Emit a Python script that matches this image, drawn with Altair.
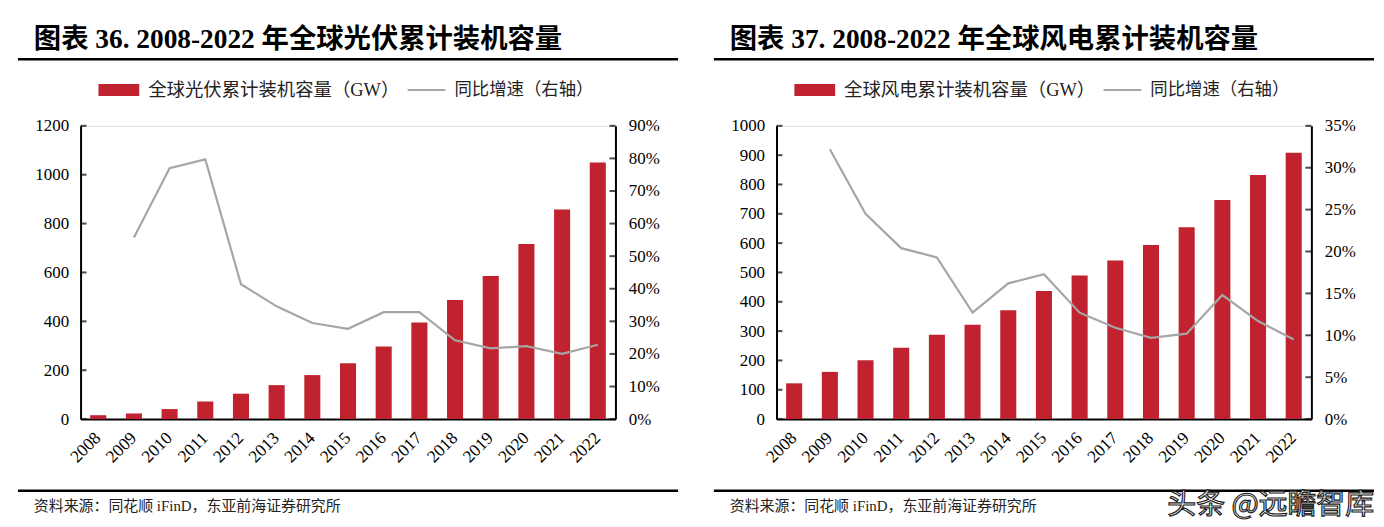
import altair as alt
import pandas as pd

# ---------------- data ----------------
years = [str(y) for y in range(2008, 2023)]

pv_title = "图表 36. 2008-2022 年全球光伏累计装机容量"
pv_bar_name = "全球光伏累计装机容量（GW）"
pv_capacity = [16, 23, 41, 72, 104, 139, 180, 228, 297, 395, 487, 586, 716, 858, 1050]
pv_growth = [None, 0.557, 0.770, 0.797, 0.414, 0.346, 0.295, 0.277, 0.328, 0.328, 0.242, 0.217, 0.224, 0.200, 0.228]
pv_left_ticks = [0, 200, 400, 600, 800, 1000, 1200]
pv_right_ticks = [0, 0.1, 0.2, 0.3, 0.4, 0.5, 0.6, 0.7, 0.8, 0.9]

wind_title = "图表 37. 2008-2022 年全球风电累计装机容量"
wind_bar_name = "全球风电累计装机容量（GW）"
wind_capacity = [122, 161, 201, 243, 288, 322, 371, 437, 490, 541, 594, 654, 747, 832, 908]
wind_growth = [None, 0.322, 0.245, 0.204, 0.193, 0.127, 0.162, 0.173, 0.127, 0.109, 0.097, 0.102, 0.148, 0.117, 0.095]
wind_left_ticks = [0, 100, 200, 300, 400, 500, 600, 700, 800, 900, 1000]
wind_right_ticks = [0, 0.05, 0.10, 0.15, 0.20, 0.25, 0.30, 0.35]

line_name = "同比增速（右轴）"
source_text = "资料来源：同花顺 iFinD，东亚前海证券研究所"
watermark = "头条 @远瞻智库"

RED = "#C0222F"
GRAY = "#A6A6A6"
SERIF = "Liberation Serif, Noto Sans CJK SC"
W, H = 538, 295


def deco_chart():
    return alt.Chart(alt.Data(values=[{}]))


def panel(title, bar_name, cap, growth, lticks, rticks, extra=None):
    df = pd.DataFrame({"year": years, "cap": cap, "g": growth})
    lscale = alt.Scale(domain=[lticks[0], lticks[-1]], nice=False)
    rscale = alt.Scale(domain=[rticks[0], rticks[-1]], nice=False)
    xenc = alt.X(
        "year:O",
        sort=years,
        scale=alt.Scale(paddingInner=0.55, paddingOuter=0.27),
        axis=alt.Axis(
            title=None, labelAngle=-45, labelAlign="right", labelBaseline="middle",
            ticks=False, labelPadding=16, domainColor="black", domainWidth=2,
            labelFont="Liberation Serif", labelFontSize=17.5, labelColor="#000",
        ),
    )
    bars = alt.Chart(df).mark_bar(color=RED).encode(
        x=xenc,
        y=alt.Y(
            "cap:Q", scale=lscale,
            axis=alt.Axis(
                title=None, values=lticks, format="d", grid=False, domainColor="black",
                domainWidth=2, ticks=False, labelPadding=12,
                labelFont="Liberation Serif", labelFontSize=17, labelColor="#000",
            ),
        ),
    )
    line = alt.Chart(df).transform_filter("isValid(datum.g)").mark_line(
        color=GRAY, strokeWidth=2.2
    ).encode(
        x=xenc,
        y=alt.Y(
            "g:Q", scale=rscale,
            axis=alt.Axis(
                title=None, orient="right", values=rticks, format=".0%", grid=False,
                domainColor="black", domainWidth=2, ticks=False, labelPadding=13,
                labelFont="Liberation Serif", labelFontSize=17, labelColor="#000",
            ),
        ),
    )
    # inward axis ticks, driven by the tick value lists
    lt = alt.Chart(pd.DataFrame({"v": lticks})).mark_tick(
        orient="horizontal", size=6, thickness=2, color="black"
    ).encode(y=alt.Y("v:Q", scale=lscale, axis=None), x=alt.value(3))
    rt = alt.Chart(pd.DataFrame({"v": rticks})).mark_tick(
        orient="horizontal", size=6, thickness=2, color="black"
    ).encode(y=alt.Y("v:Q", scale=rscale, axis=None), x=alt.value(W - 3))

    t = deco_chart().mark_text(
        text=title, font=SERIF, fontSize=27.5, fontWeight="bold", align="left",
        baseline="middle", color="#000",
    ).encode(x=alt.value(-47), y=alt.value(-86))
    underline = deco_chart().mark_rule(color="#000", strokeWidth=2.5).encode(
        x=alt.value(-63), x2=alt.value(601), y=alt.value(-67)
    )
    swatch = deco_chart().mark_rect(color=RED).encode(
        x=alt.value(18), x2=alt.value(59), y=alt.value(-42), y2=alt.value(-30)
    )
    swatch_text = deco_chart().mark_text(
        text=bar_name, font=SERIF, fontSize=18.5, align="left", baseline="middle", color="#222"
    ).encode(x=alt.value(68), y=alt.value(-36))
    lswatch = deco_chart().mark_rule(color=GRAY, strokeWidth=2).encode(
        x=alt.value(329), x2=alt.value(367), y=alt.value(-36)
    )
    lswatch_text = deco_chart().mark_text(
        text=line_name, font=SERIF, fontSize=17.5, align="left", baseline="middle", color="#222"
    ).encode(x=alt.value(376), y=alt.value(-36))
    footline = deco_chart().mark_rule(color="#000", strokeWidth=2.5).encode(
        x=alt.value(-63), x2=alt.value(601), y=alt.value(367)
    )
    foot = deco_chart().mark_text(
        text=source_text, font=SERIF, fontSize=15, align="left", baseline="middle", color="#222"
    ).encode(x=alt.value(-47), y=alt.value(382))
    layers = [bars, line, lt, rt, t, underline, swatch, swatch_text, lswatch, lswatch_text, footline, foot]
    if extra is not None:
        layers.append(extra)
    return alt.layer(*layers).resolve_scale(y="independent").properties(width=W, height=H)


wm = deco_chart().mark_text(
    text=watermark, font="Noto Sans CJK SC", fontSize=29, align="right", baseline="middle",
    color="#ffffff", stroke="#222222", strokeWidth=1.2,
).encode(x=alt.value(601), y=alt.value(381))

p1 = panel(pv_title, pv_bar_name, pv_capacity, pv_growth, pv_left_ticks, pv_right_ticks)
p2 = panel(wind_title, wind_bar_name, wind_capacity, wind_growth, wind_left_ticks, wind_right_ticks, wm)

chart = alt.hconcat(p1, p2, spacing=32).properties(
    padding={"left": 8, "top": 16, "right": 0, "bottom": 0}
).configure_view(stroke=None).configure(background="white")

chart.save("out.html", embed_options={"renderer": "svg", "actions": False})
